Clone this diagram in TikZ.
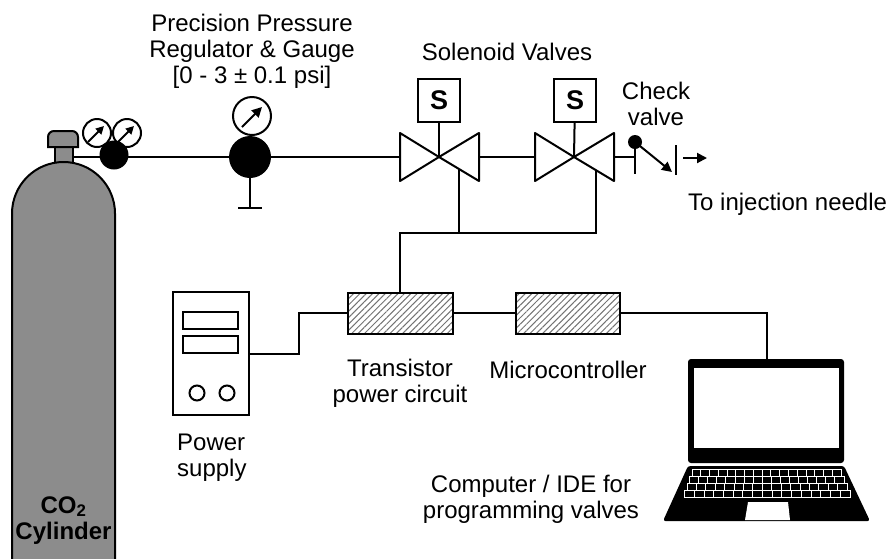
\documentclass[tikz,border=0pt]{standalone}
\usepackage{fontspec}
\setmainfont{Liberation Sans}
\usetikzlibrary{arrows.meta,patterns.meta}

\definecolor{cylgray}{HTML}{8C8C8C}

\tikzset{
  wire/.style={line width=2pt},
  lbl/.style={font=\fontsize{24}{26}\selectfont, align=center, inner sep=0pt, anchor=base},
  tip/.style={-{Triangle[length=10pt,width=10pt]}},
  ball/.style={circle, fill=black, inner sep=0pt},
  gauge/.style={circle, draw, fill=white, line width=2pt, inner sep=0pt},
  sbox/.style={draw, fill=white, line width=2pt, minimum width=42pt, minimum height=43pt,
    inner sep=0pt, font=\fontsize{27}{27}\selectfont\bfseries},
  hatchbox/.style={draw, line width=2pt, minimum width=105pt, minimum height=41pt, inner sep=0pt,
    pattern={Lines[angle=45,distance=4.5pt,line width=1pt]}, pattern color=black!55},
}

\begin{document}
\begin{tikzpicture}[x=1pt,y=1pt]
  \useasboundingbox (0,0) rectangle (891,-558);

  % gas cylinder
  \filldraw[fill=cylgray, wire] (55,-168) rectangle (73,-147);
  \filldraw[fill=cylgray, wire] (48,-147) {[rounded corners=6pt] -- (48,-131) -- (78,-131)} -- (78,-147) -- cycle;
  \filldraw[fill=cylgray, wire] (12,-562) -- (12,-213.5) arc[start angle=180, end angle=0, radius=51.5] -- (115,-562);
  \node[lbl, font=\fontsize{24}{26}\selectfont\bfseries] (cyl) at (63.5,-539) {CO\textsubscript{2}\\Cylinder};
  \coordinate (neck) at (73,-157);

  % first regulator with its two gauges
  \node[gauge, minimum size=28pt] (g1) at (97,-133) {};
  \node[gauge, minimum size=28pt] (g2) at (127,-133) {};
  \draw[wire, -{Triangle[length=8pt,width=8pt]}] (g1.center) ++(-9,-9) -- ++(16,16);
  \draw[wire, -{Triangle[length=8pt,width=8pt]}] (g2.center) ++(-9,-9) -- ++(16,16);
  \node[ball, minimum size=29pt] (r1) at (114,-155) {};

  % precision regulator
  \node[gauge, minimum size=38pt] (g3) at (252,-116) {};
  \draw[wire, tip] (g3.center) ++(-10,-11) -- ++(20,20);
  \node[ball, minimum size=42pt] (r2) at (250,-157) {};
  \draw[wire] (r2.south) -- ++(0,-30) coordinate (gnd);
  \draw[wire] (gnd) ++(-12,0) -- ++(24,0);
  \node[lbl] (preg) at (252,-83) {Precision Pressure\\Regulator \& Gauge\\{}[0 - 3 ± 0.1 psi]};

  % solenoid valves
  \coordinate (v1) at (439,-157);
  \coordinate (v2) at (574,-157);
  \coordinate (v1in) at (400,-157);
  \coordinate (v1out) at (479,-157);
  \coordinate (v2in) at (535,-157);
  \coordinate (v2out) at (614,-157);
  \draw[wire, line join=round] (v1in) ++(0,24) -- ++(0,-48) -- (v1) -- cycle;
  \draw[wire, line join=round] (v1out) ++(0,24) -- ++(0,-48) -- (v1) -- cycle;
  \draw[wire, line join=round] (v2in) ++(0,24) -- ++(0,-48) -- (v2) -- cycle;
  \draw[wire, line join=round] (v2out) ++(0,24) -- ++(0,-48) -- (v2) -- cycle;
  \node[sbox] (s1) at (439,-100.5) {S};
  \node[sbox] (s2) at (575,-100.5) {S};
  \draw[wire] (s1) -- (v1);
  \draw[wire] (s2) -- (v2);
  \node[lbl] (sv) at (507,-60) {Solenoid Valves};

  % check valve
  \coordinate (ck) at (635,-157);
  \node[ball, minimum size=14pt] (ckball) at (635,-142) {};
  \coordinate (ckhead) at (672,-172);
  \coordinate (seat) at (676,-160);
  \coordinate (outlet) at (683,-158);
  \draw[wire] (ckball.center) -- (635,-174);
  \draw[wire, tip] (ckball.center) -- (ckhead);
  \draw[wire] (seat) ++(0,15) -- ++(0,-30);
  \draw[wire, tip] (outlet) -- ++(24,0);
  \node[lbl] (ckl) at (656,-125) {Check\\valve};
  \node[lbl, anchor=base west] (inj) at (688,-210) {To injection needle};

  % gas line
  \draw[wire] (neck) -- (r2);
  \draw[wire] (r2) -- (v1in);
  \draw[wire] (v1out) -- (v2in);
  \draw[wire] (v2out) -- (ck);

  % control electronics
  \node[hatchbox] (tpc) at (400,-313) {};
  \node[hatchbox, minimum width=104pt] (mcu) at (568,-313) {};
  \node[lbl] (tpcl) at (400,-402) {Transistor\\power circuit};
  \node[lbl] (mcul) at (568,-378) {Microcontroller};

  \coordinate (v1tap) at (459,-169);
  \coordinate (v2tap) at (596,-170);
  \coordinate (bus) at (596,-233);
  \draw[wire] (tpc.north) |- (bus) -- (v2tap);
  \draw[wire] (v1tap) -- (v1tap |- bus);

  % power supply
  \node[draw, wire, minimum width=76pt, minimum height=123pt, inner sep=0pt] (psu) at (211,-353.5) {};
  \draw[wire] (183,-312) rectangle (238,-329);
  \draw[wire] (183,-336) rectangle (238,-353);
  \draw[wire] (197,-393) circle (7.5);
  \draw[wire] (227,-393) circle (7.5);
  \node[lbl, align=left, anchor=base west] (psul) at (177,-476) {Power\\supply};
  \draw[wire] (psu.east) -- ++(49,0) |- (tpc.west);
  \draw[wire] (tpc) -- (mcu);

  % laptop
  \coordinate (lap) at (767,-359);
  \fill[rounded corners=3pt] (688,-359) rectangle (844,-463);
  \fill[white] (694,-368) rectangle (839,-448);
  \fill[rounded corners=2.5pt] (688,-466) -- (844,-466) -- (870,-521) -- (663,-521) -- cycle;
  \foreach \r in {0,...,3}
    \foreach \k in {0,...,16} {
      \pgfmathsetmacro{\kw}{(149+5.5*\r)/17}
      \pgfmathsetmacro{\kx}{692-2.5*\r+\k*\kw}
      \draw[white, line width=0.9pt] (\kx,-469-7.2*\r) rectangle ++(\kw,-7.2);
    }
  \fill[white] (748,-502) -- (788,-502) -- (790,-520) -- (745,-520) -- cycle;
  \draw[wire] (mcu) -| (lap);
  \node[lbl] (pcl) at (531,-518) {Computer / IDE for\\programming valves};
\end{tikzpicture}
\end{document}
